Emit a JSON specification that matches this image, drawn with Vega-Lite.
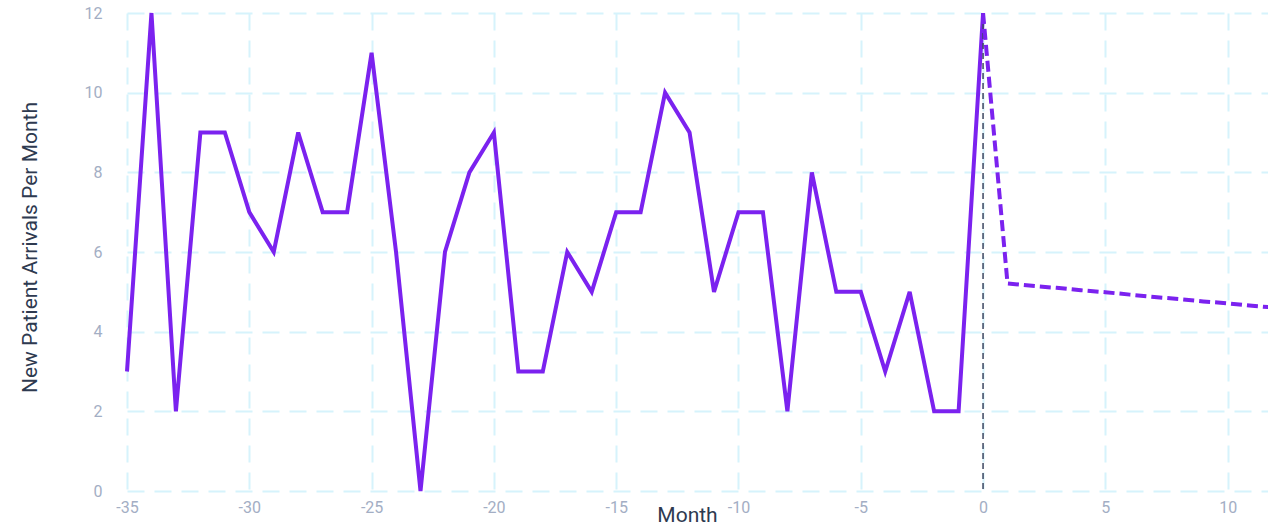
{
  "$schema": "https://vega.github.io/schema/vega-lite/v6.json",
  "width": 1141,
  "height": 478,
  "autosize": {"type": "none"},
  "padding": {"left": 127, "top": 13, "right": 0, "bottom": 40},
  "config": {
    "view": {"stroke": null},
    "font": "Roboto",
    "axis": {
      "domain": false,
      "ticks": false,
      "labelFlush": false,
      "labelOverlap": false,
      "gridColor": "#d6f3fc",
      "gridDash": [17, 10],
      "gridWidth": 2,
      "labelColor": "#a3aec4",
      "labelFontSize": 16,
      "labelFont": "Roboto",
      "labelExpr": "'' + datum.value",
      "titleFont": "Roboto",
      "titleColor": "#2e3a50",
      "titleFontSize": 21,
      "titleFontWeight": "normal"
    }
  },
  "datasets": {
    "actual": [
      {"month": -35, "arrivals": 3},
      {"month": -34, "arrivals": 12},
      {"month": -33, "arrivals": 2},
      {"month": -32, "arrivals": 9},
      {"month": -31, "arrivals": 9},
      {"month": -30, "arrivals": 7},
      {"month": -29, "arrivals": 6},
      {"month": -28, "arrivals": 9},
      {"month": -27, "arrivals": 7},
      {"month": -26, "arrivals": 7},
      {"month": -25, "arrivals": 11},
      {"month": -24, "arrivals": 6},
      {"month": -23, "arrivals": 0},
      {"month": -22, "arrivals": 6},
      {"month": -21, "arrivals": 8},
      {"month": -20, "arrivals": 9},
      {"month": -19, "arrivals": 3},
      {"month": -18, "arrivals": 3},
      {"month": -17, "arrivals": 6},
      {"month": -16, "arrivals": 5},
      {"month": -15, "arrivals": 7},
      {"month": -14, "arrivals": 7},
      {"month": -13, "arrivals": 10},
      {"month": -12, "arrivals": 9},
      {"month": -11, "arrivals": 5},
      {"month": -10, "arrivals": 7},
      {"month": -9, "arrivals": 7},
      {"month": -8, "arrivals": 2},
      {"month": -7, "arrivals": 8},
      {"month": -6, "arrivals": 5},
      {"month": -5, "arrivals": 5},
      {"month": -4, "arrivals": 3},
      {"month": -3, "arrivals": 5},
      {"month": -2, "arrivals": 2},
      {"month": -1, "arrivals": 2},
      {"month": 0, "arrivals": 12}
    ],
    "forecast": [
      {"month": 0, "arrivals": 12},
      {"month": 1, "arrivals": 5.21},
      {"month": 2, "arrivals": 5.15},
      {"month": 3, "arrivals": 5.1},
      {"month": 4, "arrivals": 5.04},
      {"month": 5, "arrivals": 4.99},
      {"month": 6, "arrivals": 4.93},
      {"month": 7, "arrivals": 4.87},
      {"month": 8, "arrivals": 4.82},
      {"month": 9, "arrivals": 4.76},
      {"month": 10, "arrivals": 4.71},
      {"month": 11, "arrivals": 4.65},
      {"month": 12, "arrivals": 4.6}
    ],
    "marker": [{"month": 0}]
  },
  "encoding": {
    "x": {
      "field": "month",
      "type": "quantitative",
      "scale": {"domain": [-35, 11.65], "nice": false, "zero": false},
      "axis": {
        "values": [-35, -30, -25, -20, -15, -10, -5, 0, 5, 10],
        "title": "Month",
        "labelPadding": 8,
        "titleX": 560,
        "titleY": 24,
        "titleBaseline": "middle",
        "titleAnchor": null
      }
    }
  },
  "layer": [
    {
      "data": {"name": "actual"},
      "mark": {"type": "line", "color": "#7b22ef", "strokeWidth": 4},
      "encoding": {
        "y": {
          "field": "arrivals",
          "type": "quantitative",
          "scale": {"domain": [0, 12], "nice": false},
          "axis": {
            "values": [0, 2, 4, 6, 8, 10, 12],
            "title": "New Patient Arrivals Per Month",
            "labelPadding": 25,
            "titleX": -97,
            "titleY": 234,
            "titleAngle": -90,
            "titleBaseline": "middle",
            "titleAlign": "center"
          }
        }
      }
    },
    {
      "data": {"name": "marker"},
      "mark": {"type": "rule", "color": "#3d4761", "strokeWidth": 1.5, "strokeDash": [6, 4]},
      "encoding": {"x": {"field": "month", "type": "quantitative"}}
    },
    {
      "data": {"name": "forecast"},
      "mark": {"type": "line", "color": "#7b22ef", "strokeWidth": 4, "strokeDash": [11, 5], "clip": true},
      "encoding": {"y": {"field": "arrivals", "type": "quantitative"}}
    }
  ]
}
